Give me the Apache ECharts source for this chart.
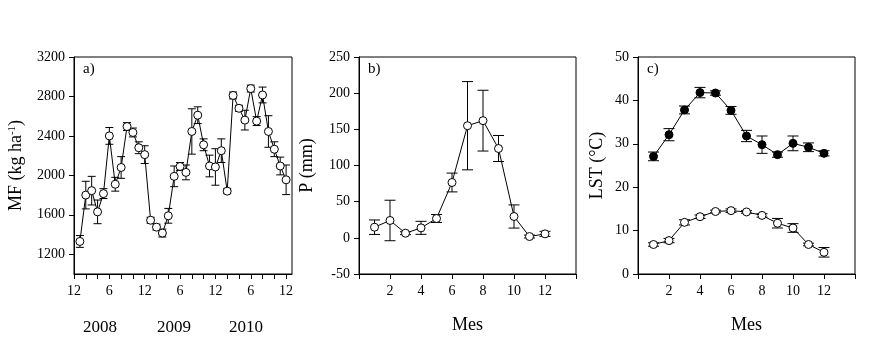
<!DOCTYPE html>
<html>
<head>
<meta charset="utf-8">
<script src="https://cdn.jsdelivr.net/npm/echarts@6/dist/echarts.min.js"></script>
<style>
  html, body { margin: 0; padding: 0; background: #fff; }
  #chart { width: 884px; height: 340px; }
</style>
</head>
<body>
<div id="chart"></div>
<script>
// ---- donnees ----------------------------------------------------------
// a) MF mensuel, jan 2008 -> dec 2010 (index 1 = jan 2008, 0 = dec 2007)
var mfMonth = [];
for (var i = 1; i <= 36; i++) { mfMonth.push(i); }
var mfValues = [1330, 1800, 1845, 1630, 1815, 2400, 1910, 2080, 2495, 2435, 2280, 2210,
                1545, 1475, 1415, 1590, 1990, 2090, 2030, 2445, 2610, 2310, 2095, 2085,
                2250, 1840, 2810, 2680, 2560, 2880, 2550, 2815, 2445, 2265, 2095, 1955];
var mfErr = [60, 140, 145, 120, 50, 85, 70, 110, 40, 45, 60, 90,
             30, 30, 40, 75, 105, 40, 75, 230, 85, 60, 110, 185,
             120, 25, 35, 30, 100, 35, 45, 80, 160, 75, 90, 150];
var mfYTicks = [1200, 1600, 2000, 2400, 2800, 3200];
var mfXTicks = [0, 2, 4, 6, 8, 10, 12, 14, 16, 18, 20, 22, 24, 26, 28, 30, 32, 34, 36];
var mfXLabels = [0, 6, 12, 18, 24, 30, 36];
var years = ['2008', '2009', '2010'];

// b) precipitation mensuelle
var months = [1, 2, 3, 4, 5, 6, 7, 8, 9, 10, 11, 12];
var pValues = [14.7, 24, 6.4, 13.8, 26.7, 76.5, 155, 162, 123.5, 29.5, 1.8, 5.5];
var pErr = [10, 28, 2, 9, 5.5, 13, 61, 42, 18, 16, 2, 3.5];
var pYTicks = [-50, 0, 50, 100, 150, 200, 250];

// c) LST jour (points pleins) et nuit (points vides)
var lstDay = [27.1, 32.1, 37.8, 41.8, 41.7, 37.7, 31.8, 29.8, 27.5, 30.1, 29.2, 27.8];
var lstDayErr = [1.0, 1.4, 0.9, 1.2, 0.5, 0.9, 1.3, 2.0, 0.6, 1.7, 1.0, 0.6];
var lstNight = [6.8, 7.7, 11.9, 13.2, 14.4, 14.6, 14.3, 13.5, 11.7, 10.6, 6.8, 5.0];
var lstNightErr = [0.4, 0.5, 0.6, 0.4, 0.3, 0.4, 0.3, 0.4, 1.1, 1.0, 0.3, 1.1];
var lstYTicks = [0, 10, 20, 30, 40, 50];

var monthTicks = [0, 2, 4, 6, 8, 10, 12, 14];
var monthLabels = [2, 4, 6, 8, 10, 12];

// ---- helpers ----------------------------------------------------------
var fontFamily = 'Liberation Serif';

function pairs(xs, ys) {
  return xs.map(function (x, i) { return [x, ys[i]]; });
}

function errData(xs, ys, es) {
  return xs.map(function (x, i) { return [x, ys[i] - es[i], ys[i] + es[i]]; });
}

function errRender(capW) {
  return function (params, api) {
    var x = api.value(0);
    var lo = api.coord([x, api.value(1)]);
    var hi = api.coord([x, api.value(2)]);
    var st = {stroke: '#000', lineWidth: 1};
    return {
      type: 'group',
      children: [
        {type: 'line', shape: {x1: lo[0], y1: lo[1], x2: hi[0], y2: hi[1]}, style: st},
        {type: 'line', shape: {x1: lo[0] - capW / 2, y1: lo[1], x2: lo[0] + capW / 2, y2: lo[1]}, style: st},
        {type: 'line', shape: {x1: hi[0] - capW / 2, y1: hi[1], x2: hi[0] + capW / 2, y2: hi[1]}, style: st}
      ]
    };
  };
}

function errSeries(idx, data, capW) {
  return {
    type: 'custom',
    xAxisIndex: idx,
    yAxisIndex: idx,
    data: data,
    encode: {x: 0, y: [1, 2]},
    renderItem: errRender(capW),
    z: 3,
    silent: true
  };
}

function lineSeries(idx, data, filled) {
  return {
    type: 'line',
    xAxisIndex: idx,
    yAxisIndex: idx,
    data: data,
    symbol: 'circle',
    symbolSize: 8,
    showAllSymbol: true,
    lineStyle: {color: '#000', width: 1},
    itemStyle: {color: filled ? '#000' : '#fff', borderColor: '#000', borderWidth: 1},
    z: 4,
    silent: true,
    animation: false
  };
}

function xAxis(idx, min, max, ticks, labels, fmt, name) {
  return {
    type: 'value',
    gridIndex: idx,
    min: min,
    max: max,
    name: name || '',
    nameLocation: 'middle',
    nameGap: 42,
    nameTextStyle: {fontFamily: fontFamily, fontSize: 18, color: '#000'},
    splitLine: {show: false},
    axisLine: {onZero: false, lineStyle: {color: '#000', width: 1}},
    axisTick: {length: 5, lineStyle: {color: '#000'}, customValues: ticks},
    axisLabel: {
      fontFamily: fontFamily, fontSize: 14, color: '#000', margin: 10,
      customValues: labels, formatter: fmt || function (v) { return String(v); }
    }
  };
}

function yAxis(idx, min, max, ticks, name, gap, rich) {
  return {
    type: 'value',
    gridIndex: idx,
    min: min,
    max: max,
    name: name,
    nameLocation: 'middle',
    nameGap: gap,
    nameRotate: 90,
    nameTextStyle: {fontFamily: fontFamily, fontSize: 18, color: '#000', rich: rich},
    splitLine: {show: false},
    axisLine: {onZero: false, lineStyle: {color: '#000', width: 1}},
    axisTick: {length: 5, lineStyle: {color: '#000'}, customValues: ticks},
    axisLabel: {
      fontFamily: fontFamily, fontSize: 14, color: '#000', margin: 9, customValues: ticks,
      formatter: function (v) { return String(v); }
    }
  };
}

var gridStyle = {show: true, borderColor: '#000', borderWidth: 1, backgroundColor: '#fff'};

function panelLabel(txt, x, y) {
  return {
    type: 'text', left: x, top: y,
    style: {text: txt, font: '15px "Liberation Serif"', fill: '#000'}
  };
}

function yearLabel(txt, cx) {
  return {
    type: 'text', x: cx, y: 328,
    style: {text: txt, font: '17px "Liberation Serif"', fill: '#000', align: 'center', verticalAlign: 'middle'}
  };
}

// ---- graphique --------------------------------------------------------
var chart = echarts.init(document.getElementById('chart'), null, {renderer: 'canvas'});

var option = {
  backgroundColor: '#fff',
  animation: false,
  grid: [
    Object.assign({left: 74, top: 57, width: 218, height: 217}, gridStyle),
    Object.assign({left: 359, top: 57, width: 217, height: 217}, gridStyle),
    Object.assign({left: 638, top: 57, width: 217, height: 217}, gridStyle)
  ],
  xAxis: [
    xAxis(0, 0, 37, mfXTicks, mfXLabels, function (v) { return v % 12 === 0 ? '12' : '6'; }),
    xAxis(1, 0, 14, monthTicks, monthLabels, null, 'Mes'),
    xAxis(2, 0, 14, monthTicks, monthLabels, null, 'Mes')
  ],
  yAxis: [
    yAxis(0, 1000, 3200, mfYTicks, 'MF (kg ha{sup|-1})', 49,
      {sup: {fontFamily: fontFamily, fontSize: 11, verticalAlign: 'top', color: '#000'}}),
    yAxis(1, -50, 250, pYTicks, 'P (mm)', 43),
    yAxis(2, 0, 50, lstYTicks, 'LST (°C)', 32)
  ],
  graphic: [
    panelLabel('a)', 83, 62),
    panelLabel('b)', 368, 62),
    panelLabel('c)', 647, 62),
    yearLabel(years[0], 100),
    yearLabel(years[1], 174),
    yearLabel(years[2], 246)
  ],
  series: [
    errSeries(0, errData(mfMonth, mfValues, mfErr), 8),
    lineSeries(0, pairs(mfMonth, mfValues), false),
    errSeries(1, errData(months, pValues, pErr), 11),
    lineSeries(1, pairs(months, pValues), false),
    errSeries(2, errData(months, lstDay, lstDayErr), 11),
    lineSeries(2, pairs(months, lstDay), true),
    errSeries(2, errData(months, lstNight, lstNightErr), 11),
    lineSeries(2, pairs(months, lstNight), false)
  ]
};

option && chart.setOption(option);
</script>
</body>
</html>
